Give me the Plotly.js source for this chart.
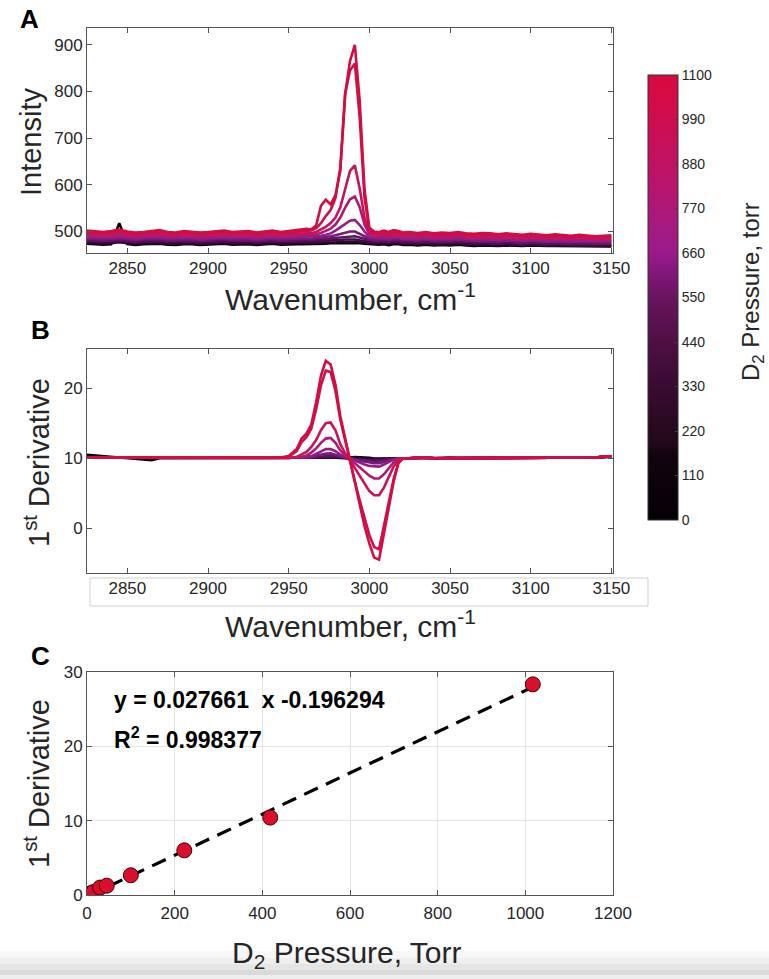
<!DOCTYPE html>
<html>
<head>
<meta charset="utf-8">
<script src="https://cdn.plot.ly/plotly-3.0.1.min.js"></script>
<style>html,body{margin:0;padding:0;background:#fff;}#chart{width:769px;height:979px;}</style>
</head>
<body>
<div id="chart"></div>
<script>
// ---------------- DATA ----------------
const wavenumber = [2825,2830,2835,2840,2845,2850,2855,2860,2865,2870,2875,2880,2885,2890,2895,2900,2905,2910,2915,2920,2925,2930,2935,2940,2945,2950,2955,
  2958,2961,2964,2967,2970,2973,2976,2979,2982,2985,2988,2991,2994,2997,3000,3003,3006,3009,3012,3015,3018,3021,
  3025,3030,3035,3040,3045,3050,3055,3060,3065,3070,3075,3080,3085,3090,3095,3100,3105,3110,3115,3120,3125,3130,3135,3140,3145,3150];

// curve pressures (torr), from black (low) to crimson (high)
const curvePressures = [0, 9, 15, 30, 45, 100, 222, 418, 950, 1017];

// Panel A: intensity spectra
const intensity_0 = [474,473,472,473,518,473,471,473,474,474,472,471,473,473,471,472,473,474,472,473,473,471,473,474,472,473,473,
  473,473,474,474,474,474,475,475,475,476,476,476,475,474,473,472,472,473,471,473,473,471,
  472,470,472,470,471,470,472,470,469,470,469,469,470,469,469,470,469,469,469,469,468,469,468,468,468,468];
const intensity_9 = [476,475,474,475,477,475,473,475,476,476,474,474,475,475,473,474,475,476,474,475,475,473,475,476,474,475,475,
  475,476,476,476,476,477,477,477,478,478,479,479,478,476,475,474,474,475,473,475,475,473,
  474,472,474,472,473,472,474,472,471,472,471,470,472,471,470,471,470,470,470,470,469,470,469,469,469,469];
const intensity_15 = [479,478,477,478,480,478,476,478,479,479,477,477,478,478,476,477,478,479,477,478,478,476,478,479,477,478,478,
  478,479,479,479,480,480,481,481,482,483,483,483,481,479,478,477,477,478,476,478,478,476,
  477,475,477,475,476,475,477,475,474,475,474,473,475,474,472,474,473,472,473,472,471,472,471,471,471,471];
const intensity_30 = [482,481,480,481,483,481,479,481,482,482,480,480,481,481,479,480,481,482,480,481,481,479,481,482,480,481,481,
  482,482,482,483,483,484,485,486,487,489,490,490,487,484,482,480,480,481,479,481,481,479,
  480,478,480,478,479,478,480,478,477,478,477,476,478,477,475,477,476,475,476,475,474,475,474,474,474,474];
const intensity_45 = [485,484,483,484,486,484,482,484,485,485,483,483,484,484,482,483,484,485,483,484,484,482,484,485,483,484,484,
  485,485,485,486,487,488,490,492,495,498,500,500,495,489,485,483,483,484,482,484,484,482,
  483,481,483,481,482,481,483,481,480,481,480,479,481,480,478,480,479,478,479,478,477,478,477,477,477,477];
const intensity_100 = [488,487,486,487,489,487,485,487,488,488,486,486,487,487,485,486,487,488,486,487,487,485,487,488,486,487,487,
  488,488,489,489,491,493,496,502,509,517,523,525,514,500,488,486,486,487,485,487,487,485,
  486,484,486,484,485,484,486,484,483,484,483,482,484,483,481,483,482,481,482,481,480,481,480,480,480,480];
const intensity_222 = [491,490,489,491,492,490,488,490,491,492,489,489,490,490,488,489,490,491,489,490,490,488,490,491,489,490,491,
  491,492,493,494,497,501,506,515,530,551,569,575,552,515,494,490,489,491,489,491,490,488,
  489,487,489,487,488,487,489,487,486,487,486,485,487,486,484,486,485,484,485,484,483,484,483,482,483,483];
const intensity_418 = [495,494,493,495,496,494,492,494,495,496,493,492,494,494,492,493,494,495,493,494,494,492,494,495,493,494,495,
  495,496,497,499,505,510,518,530,552,592,630,642,592,530,499,494,493,495,492,495,494,492,
  493,491,493,490,492,491,493,490,489,491,490,488,490,489,487,489,488,487,488,487,486,487,486,485,486,486];
const intensity_950 = [499,497,496,498,500,497,495,497,498,500,496,495,498,497,495,496,497,499,496,497,498,495,497,499,496,498,499,
  500,501,502,507,518,533,546,572,638,795,845,860,745,572,503,497,496,499,496,499,498,495,
  496,494,496,493,495,494,496,493,492,494,493,491,493,492,490,492,491,489,491,490,488,490,489,487,488,489];
const intensity_1017 = [502,500,499,501,504,500,498,499,501,503,499,498,501,500,498,499,500,502,499,500,501,498,500,502,499,501,503,
  504,506,505,513,555,568,558,578,630,795,865,900,780,590,508,500,499,502,499,503,501,498,
  499,497,499,496,498,497,499,496,495,497,496,494,496,495,493,495,494,492,494,493,491,493,492,490,491,492];

// Panel B: first derivative (offset by 10)
const deriv_0 = [10.5,10.4,10.3,10.2,10.1,10.0,9.9,9.8,9.7,10.0,10.0,10.0,10.0,10.1,10.0,10.0,10.0,10.1,10.0,10.0,10.0,10.0,10.1,10.0,10.0,10.0,10.0,
  10.0,10.0,10.0,10.0,10.05,10.05,10.05,10.05,10.0,10.0,10.1,10.15,10.15,10.1,10.05,9.95,9.95,10.0,10.0,10.0,10.0,10.0,
  10.0,10.1,10.0,10.0,10.0,10.1,10.0,10.0,10.0,10.0,10.1,10.0,10.0,10.0,10.1,10.0,10.0,10.0,10.0,10.1,10.0,10.0,10.0,10.1,10.1,10.2];
const deriv_9 = [10.1,10.1,10.0,10.0,10.0,10.1,10.1,10.0,10.0,10.1,10.1,10.0,10.0,10.1,10.1,10.0,10.0,10.1,10.1,10.1,10.0,10.0,10.1,10.1,10.1,10.0,10.0,
  10.0,10.0,10.0,10.05,10.1,10.15,10.15,10.1,10.05,10.0,10.0,9.95,9.9,9.9,9.9,9.85,9.85,9.9,9.95,10.0,10.0,10.0,
  10.0,10.1,10.1,10.0,10.0,10.1,10.1,10.0,10.0,10.0,10.1,10.1,10.0,10.0,10.1,10.1,10.0,10.0,10.0,10.1,10.1,10.0,10.0,10.1,10.2,10.2];
const deriv_15 = [10.1,10.1,10.0,10.0,10.0,10.1,10.1,10.0,10.0,10.1,10.1,10.0,10.0,10.1,10.1,10.0,10.0,10.1,10.1,10.1,10.0,10.0,10.1,10.1,10.1,10.0,10.0,
  10.0,10.0,10.05,10.1,10.2,10.25,10.25,10.2,10.1,10.0,9.95,9.9,9.85,9.8,9.8,9.75,9.75,9.8,9.85,9.95,10.0,10.0,
  10.0,10.1,10.1,10.0,10.0,10.1,10.1,10.0,10.0,10.0,10.1,10.1,10.0,10.0,10.1,10.1,10.0,10.0,10.0,10.1,10.1,10.0,10.0,10.1,10.2,10.2];
const deriv_30 = [10.1,10.1,10.0,10.0,10.0,10.1,10.1,10.0,10.0,10.1,10.1,10.0,10.0,10.1,10.1,10.0,10.0,10.1,10.1,10.1,10.0,10.0,10.1,10.1,10.1,10.0,10.0,
  10.0,10.05,10.1,10.2,10.3,10.4,10.4,10.3,10.15,10.05,9.95,9.85,9.75,9.7,9.65,9.6,9.6,9.7,9.8,9.9,10.0,10.0,
  10.0,10.1,10.1,10.0,10.0,10.1,10.1,10.0,10.0,10.0,10.1,10.1,10.0,10.0,10.1,10.1,10.0,10.0,10.0,10.1,10.1,10.0,10.0,10.1,10.2,10.2];
const deriv_45 = [10.1,10.1,10.0,10.0,10.0,10.1,10.1,10.0,10.0,10.1,10.1,10.0,10.0,10.1,10.1,10.0,10.0,10.1,10.1,10.1,10.0,10.0,10.1,10.1,10.1,10.0,10.0,
  10.0,10.1,10.2,10.3,10.5,10.65,10.7,10.5,10.3,10.1,9.95,9.8,9.65,9.5,9.4,9.3,9.3,9.5,9.7,9.9,10.0,10.0,
  10.0,10.1,10.1,10.0,10.0,10.1,10.1,10.0,10.0,10.0,10.1,10.1,10.0,10.0,10.1,10.1,10.0,10.0,10.0,10.1,10.1,10.0,10.0,10.1,10.2,10.2];
const deriv_100 = [10.1,10.1,10.0,10.0,10.0,10.1,10.1,10.0,10.0,10.1,10.1,10.0,10.0,10.1,10.1,10.0,10.0,10.1,10.1,10.1,10.0,10.0,10.1,10.1,10.1,10.0,10.05,
  10.1,10.2,10.3,10.6,11.0,11.3,11.3,11.0,10.5,10.2,9.95,9.7,9.4,9.1,8.9,8.8,8.8,9.1,9.5,9.8,10.0,10.0,
  10.0,10.1,10.1,10.0,10.0,10.1,10.1,10.0,10.0,10.0,10.1,10.1,10.0,10.0,10.1,10.1,10.0,10.0,10.0,10.1,10.1,10.0,10.0,10.1,10.2,10.2];
const deriv_222 = [10.1,10.1,10.0,10.0,10.0,10.1,10.1,10.0,10.0,10.1,10.1,10.0,10.0,10.1,10.1,10.0,10.0,10.1,10.1,10.1,10.0,10.0,10.1,10.1,10.1,10.0,10.1,
  10.2,10.4,10.8,11.4,12.2,12.8,12.9,12.2,11.1,10.4,9.9,9.3,8.7,8.0,7.5,7.1,7.1,7.7,8.6,9.4,9.9,10.0,
  10.0,10.1,10.1,10.0,10.0,10.1,10.1,10.0,10.0,10.0,10.1,10.1,10.0,10.0,10.1,10.1,10.0,10.0,10.0,10.1,10.1,10.0,10.0,10.1,10.2,10.2];
const deriv_418 = [10.1,10.1,10.0,10.0,10.0,10.1,10.1,10.0,10.0,10.1,10.1,10.0,10.0,10.1,10.1,10.0,10.0,10.1,10.1,10.1,10.0,10.0,10.1,10.1,10.1,10.0,10.2,
  10.5,10.9,11.6,12.6,14.0,15.0,15.1,14.0,12.0,10.7,9.7,8.6,7.4,6.2,5.3,4.7,4.7,5.8,7.4,8.8,9.7,10.0,
  10.0,10.1,10.1,10.0,10.0,10.1,10.1,10.0,10.0,10.0,10.1,10.1,10.0,10.0,10.1,10.1,10.0,10.0,10.0,10.1,10.1,10.0,10.0,10.1,10.2,10.2];
const deriv_950 = [10.1,10.1,10.0,10.0,10.0,10.1,10.1,10.0,10.0,10.1,10.1,10.0,10.0,10.1,10.1,10.0,10.0,10.1,10.1,10.1,10.0,10.0,10.1,10.1,10.1,10.2,11.0,
  12.3,13.0,14.2,17.0,20.4,22.5,22.3,19.6,15.5,12.5,9.5,6.7,4.0,1.3,-1.0,-2.7,-3.0,0.3,3.9,7.0,9.4,10.0,
  10.0,10.1,10.1,10.0,10.0,10.1,10.1,10.0,10.0,10.0,10.1,10.1,10.0,10.0,10.1,10.1,10.0,10.0,10.0,10.1,10.1,10.0,10.0,10.1,10.2,10.2];
const deriv_1017 = [10.1,10.1,10.0,10.0,10.0,10.1,10.1,10.0,10.0,10.1,10.1,10.0,10.0,10.1,10.1,10.0,10.0,10.1,10.1,10.1,10.0,10.0,10.1,10.1,10.1,10.3,11.3,
  12.8,13.5,14.8,18.0,21.8,23.9,23.4,20.5,16.0,12.8,9.4,6.4,3.4,0.3,-2.2,-4.2,-4.5,-0.6,3.2,6.6,9.3,10.0,
  10.0,10.1,10.1,10.0,10.0,10.1,10.1,10.0,10.0,10.0,10.1,10.1,10.0,10.0,10.1,10.1,10.0,10.0,10.0,10.1,10.1,10.0,10.0,10.1,10.2,10.2];

// Panel C: calibration points
const pressureC = [0, 4, 9, 15, 30, 45, 100, 222, 418, 1017];
const derivC    = [0.05, 0.15, 0.25, 0.4, 1.0, 1.25, 2.65, 6.0, 10.4, 28.3];
const fitSlope = 0.027661;
const fitIntercept = -0.196294;
const fitRange = [0, 1017];
const fitR2 = 0.998377;

// Tick labels
const wnTicks = [2850, 2900, 2950, 3000, 3050, 3100, 3150];
const intensityTicks = [500, 600, 700, 800, 900];
const derivTicks = [0, 10, 20];
const pressTicksC = [0, 200, 400, 600, 800, 1000, 1200];
const derivTicksC = [0, 10, 20, 30];
const colorbarTicks = [0, 110, 220, 330, 440, 550, 660, 770, 880, 990, 1100];

// ---------------- STYLE ----------------
const intensitySeries = [intensity_0, intensity_9, intensity_15, intensity_30, intensity_45, intensity_100, intensity_222, intensity_418, intensity_950, intensity_1017];
const derivSeries = [deriv_0, deriv_9, deriv_15, deriv_30, deriv_45, deriv_100, deriv_222, deriv_418, deriv_950, deriv_1017];
const curveColors = ['#0a0008', '#2a0a2c', '#421045', '#5e1460', '#7a1a7c', '#941c8a', '#ac1a74', '#c6145a', '#cf0f48', '#d30d42'];

const colorscale = [[0,'#050005'],[0.15,'#12040e'],[0.17,'#220819'],[0.24,'#2e0a26'],[0.33,'#3e0c36'],[0.42,'#541048'],
  [0.5,'#6a1460'],[0.56,'#84187c'],[0.6,'#9a1a8c'],[0.66,'#a61a80'],[0.75,'#b8146c'],[0.85,'#c8105a'],[0.93,'#d20c4a'],[1,'#d80a3e']];

const W = 769, H = 979;
const px = v => v / W;
const py = v => 1 - v / H;

const traces = [];
curvePressures.forEach((p, i) => {
  traces.push({x: wavenumber, y: intensitySeries[i], type: 'scatter', mode: 'lines', xaxis: 'x', yaxis: 'y',
    line: {color: curveColors[i], width: 2.6}, name: p + ' torr', showlegend: false});
});
curvePressures.forEach((p, i) => {
  traces.push({x: wavenumber, y: derivSeries[i], type: 'scatter', mode: 'lines', xaxis: 'x2', yaxis: 'y2',
    line: {color: curveColors[i], width: 2.6}, name: p + ' torr', showlegend: false});
});
// fit line
traces.push({x: fitRange, y: fitRange.map(v => fitSlope * v + fitIntercept), type: 'scatter', mode: 'lines',
  xaxis: 'x3', yaxis: 'y3', line: {color: '#000', width: 3.2, dash: '15px,9px'}, showlegend: false});
// points
traces.push({x: pressureC, y: derivC, type: 'scatter', mode: 'markers', xaxis: 'x3', yaxis: 'y3',
  marker: {color: '#d8102c', size: 15, line: {color: '#4a0000', width: 1}}, showlegend: false});
// colorbar carrier
traces.push({x: [2830], y: [-1000], type: 'scatter', mode: 'markers', xaxis: 'x', yaxis: 'y', showlegend: false,
  marker: {color: [0], cmin: 0, cmax: 1100, colorscale: colorscale, opacity: 0, showscale: true,
    colorbar: {x: px(647.5), xanchor: 'left', xpad: 0, y: py(75), yanchor: 'top', ypad: 0,
      len: 445 / H, lenmode: 'fraction', thickness: 30, thicknessmode: 'pixels',
      outlinewidth: 1, outlinecolor: '#333', tickvals: colorbarTicks, ticktext: colorbarTicks.map(String),
      ticks: 'inside', ticklen: 3, tickcolor: '#444', tickfont: {size: 14, color: '#262626'}}}});

const axisBase = {showline: true, linecolor: '#555', linewidth: 1, mirror: 'ticks', ticks: 'inside', ticklen: 5,
  tickcolor: '#555', showgrid: false, zeroline: false, tickfont: {size: 17, color: '#262626'}};
const xd = [px(87), px(613)];

const layout = {
  width: W, height: H, margin: {l: 0, r: 0, t: 0, b: 0}, paper_bgcolor: '#fff', plot_bgcolor: '#fff',
  font: {family: 'Liberation Sans, Arial, sans-serif', color: '#262626'},
  showlegend: false,
  xaxis: Object.assign({}, axisBase, {domain: xd, anchor: 'y', range: [2825, 3151], tickvals: wnTicks}),
  yaxis: Object.assign({}, axisBase, {domain: [py(253), py(28)], anchor: 'x', range: [454, 936], tickvals: intensityTicks}),
  xaxis2: Object.assign({}, axisBase, {domain: xd, anchor: 'y2', range: [2825, 3151], tickvals: wnTicks}),
  yaxis2: Object.assign({}, axisBase, {domain: [py(573), py(349)], anchor: 'x2', range: [-6.4, 25.6], tickvals: derivTicks}),
  xaxis3: Object.assign({}, axisBase, {domain: xd, anchor: 'y3', range: [0, 1200], tickvals: pressTicksC, showgrid: true, gridcolor: '#e4e4e4', ticklabelstandoff: 3}),
  yaxis3: Object.assign({}, axisBase, {domain: [py(895), py(671.7)], anchor: 'x3', range: [0, 30], tickvals: derivTicksC, showgrid: true, gridcolor: '#e4e4e4'}),
  shapes: [
    {type: 'rect', xref: 'paper', yref: 'paper', x0: px(90), x1: px(648), y0: py(606), y1: py(578), line: {color: '#cfcfcf', width: 1}, fillcolor: 'rgba(0,0,0,0)', layer: 'below'},
    {type: 'rect', xref: 'paper', yref: 'paper', x0: 0, x1: 1, y0: py(958), y1: py(951), line: {width: 0}, fillcolor: '#f7f7f7', layer: 'below'},
    {type: 'rect', xref: 'paper', yref: 'paper', x0: 0, x1: 1, y0: py(964), y1: py(958), line: {width: 0}, fillcolor: '#efefef', layer: 'below'},
    {type: 'rect', xref: 'paper', yref: 'paper', x0: 0, x1: 1, y0: py(970), y1: py(964), line: {width: 0}, fillcolor: '#e5e5e5', layer: 'below'},
    {type: 'rect', xref: 'paper', yref: 'paper', x0: 0, x1: 1, y0: py(975), y1: py(970), line: {width: 0}, fillcolor: '#dadada', layer: 'below'},
    {type: 'rect', xref: 'paper', yref: 'paper', x0: 0, x1: 1, y0: 0, y1: py(975), line: {width: 0}, fillcolor: '#eeeeee', layer: 'below'}
  ],
  annotations: [
    {text: '<b>A</b>', xref: 'paper', yref: 'paper', x: px(29), y: py(19), showarrow: false, font: {size: 26, color: '#000'}, xanchor: 'center', yanchor: 'middle'},
    {text: '<b>B</b>', xref: 'paper', yref: 'paper', x: px(40), y: py(330), showarrow: false, font: {size: 26, color: '#000'}, xanchor: 'center', yanchor: 'middle'},
    {text: '<b>C</b>', xref: 'paper', yref: 'paper', x: px(40), y: py(656), showarrow: false, font: {size: 26, color: '#000'}, xanchor: 'center', yanchor: 'middle'},
    {text: 'Wavenumber, cm<sup>-1</sup>', xref: 'paper', yref: 'paper', x: px(350), y: py(297), showarrow: false, font: {size: 30, color: '#262626'}, xanchor: 'center', yanchor: 'middle'},
    {text: 'Wavenumber, cm<sup>-1</sup>', xref: 'paper', yref: 'paper', x: px(350), y: py(624), showarrow: false, font: {size: 30, color: '#262626'}, xanchor: 'center', yanchor: 'middle'},
    {text: 'D<sub>2</sub> Pressure, Torr', xref: 'paper', yref: 'paper', x: px(347), y: py(954), showarrow: false, font: {size: 30, color: '#262626'}, xanchor: 'center', yanchor: 'middle'},
    {text: 'Intensity', xref: 'paper', yref: 'paper', x: px(31), y: py(142), showarrow: false, textangle: -90, font: {size: 29, color: '#262626'}, xanchor: 'center', yanchor: 'middle'},
    {text: '1<sup>st</sup> Derivative', xref: 'paper', yref: 'paper', x: px(37), y: py(463), showarrow: false, textangle: -90, font: {size: 29, color: '#262626'}, xanchor: 'center', yanchor: 'middle'},
    {text: '1<sup>st</sup> Derivative', xref: 'paper', yref: 'paper', x: px(37), y: py(784), showarrow: false, textangle: -90, font: {size: 29, color: '#262626'}, xanchor: 'center', yanchor: 'middle'},
    {text: 'D<sub>2</sub> Pressure, torr', xref: 'paper', yref: 'paper', x: px(752), y: py(292), showarrow: false, textangle: -90, font: {size: 24, color: '#262626'}, xanchor: 'center', yanchor: 'middle'},
    {text: '<b>y = ' + fitSlope.toFixed(6) + '  x ' + fitIntercept.toFixed(6) + '</b>', xref: 'paper', yref: 'paper', x: px(112), y: py(700), showarrow: false, font: {size: 23, color: '#000'}, xanchor: 'left', yanchor: 'middle'},
    {text: '<b>R<sup>2</sup> = ' + fitR2.toFixed(6) + '</b>', xref: 'paper', yref: 'paper', x: px(112), y: py(738), showarrow: false, font: {size: 23, color: '#000'}, xanchor: 'left', yanchor: 'middle'}
  ]
};

Plotly.newPlot('chart', traces, layout, {staticPlot: true, displayModeBar: false});
</script>
</body>
</html>
